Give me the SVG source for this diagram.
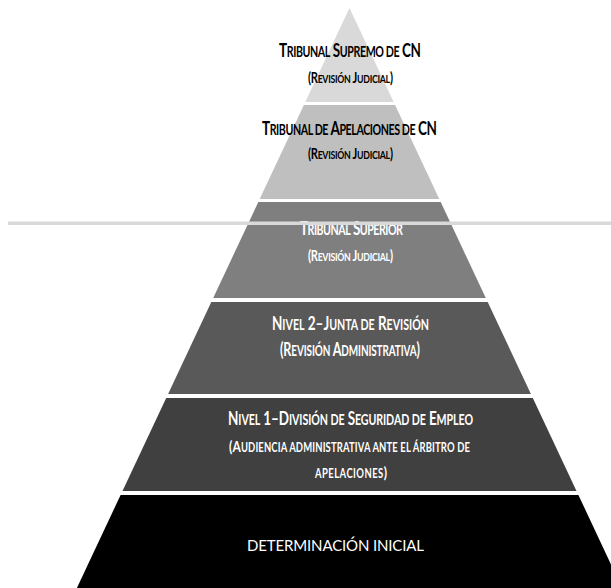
<svg xmlns="http://www.w3.org/2000/svg" width="611" height="588" viewBox="0 0 611 588">
<style>
.t{font-family:Lato,"Open Sans","Liberation Sans",sans-serif;font-weight:700;font-size:18px}
.s{font-size:14.2px}
.u{font-family:Lato,"Open Sans","Liberation Sans",sans-serif;font-weight:700;font-size:16px}
.v{font-size:12.6px}
.j{font-family:Lato,"Open Sans","Liberation Sans",sans-serif;font-weight:700;font-size:15.5px}
.i{font-size:12.2px}
.k{fill:#000}
.w{fill:#fff}
.r{font-family:Lato,"Open Sans","Liberation Sans",sans-serif;font-weight:400;font-size:15px;fill:#fff}
</style>
<rect x="0" y="0" width="611" height="588" fill="#fff"/>
<g id="tier1">
<polygon points="349.5,8 393.7,102 305.3,102" fill="#d9d9d9"/>
<text class="t k" transform="translate(279 57) scale(.75 1)" textLength="189.3" lengthAdjust="spacing">T<tspan class="s">RIBUNAL</tspan> S<tspan class="s">UPREMO DE</tspan> CN</text>
<text class="j k" transform="translate(308 83) scale(.72 1)" textLength="118" lengthAdjust="spacing">(R<tspan class="i">EVISIÓN</tspan> J<tspan class="i">UDICIAL</tspan>)</text>
</g>
<g id="tier2">
<polygon points="303.9,105 395.1,105 439.3,199 259.7,199" fill="#bfbfbf"/>
<text class="t k" transform="translate(262 135) scale(.75 1)" textLength="233.3" lengthAdjust="spacing">T<tspan class="s">RIBUNAL DE</tspan> A<tspan class="s">PELACIONES DE</tspan> CN</text>
<text class="j k" transform="translate(308 159) scale(.72 1)" textLength="118" lengthAdjust="spacing">(R<tspan class="i">EVISIÓN</tspan> J<tspan class="i">UDICIAL</tspan>)</text>
</g>
<g id="tier3">
<polygon points="258.3,202 440.7,202 485.8,298 213.2,298" fill="#7f7f7f"/>
<text class="t w" transform="translate(300 235) scale(.75 1)" textLength="137.3" lengthAdjust="spacing">T<tspan class="s">RIBUNAL</tspan> S<tspan class="s">UPERIOR</tspan></text>
<text class="j w" transform="translate(308 261) scale(.72 1)" textLength="118" lengthAdjust="spacing">(R<tspan class="i">EVISIÓN</tspan> J<tspan class="i">UDICIAL</tspan>)</text>
</g>
<g id="tier4">
<polygon points="211.3,302 487.7,302 530.9,394 168.1,394" fill="#595959"/>
<text class="t w" transform="translate(272 330) scale(.75 1)" textLength="209.3" lengthAdjust="spacing">N<tspan class="s">IVEL</tspan> 2–J<tspan class="s">UNTA DE</tspan> R<tspan class="s">EVISIÓN</tspan></text>
<text class="t w" transform="translate(280 356) scale(.7 1)" textLength="200" lengthAdjust="spacing">(R<tspan class="s">EVISIÓN</tspan> A<tspan class="s">DMINISTRATIVA</tspan>)</text>
</g>
<g id="tier5">
<polygon points="166.2,398 532.8,398 576.5,491 122.5,491" fill="#404040"/>
<text class="t w" transform="translate(228 425) scale(.75 1)" textLength="326.7" lengthAdjust="spacing">N<tspan class="s">IVEL</tspan> 1–D<tspan class="s">IVISIÓN DE</tspan> S<tspan class="s">EGURIDAD DE</tspan> E<tspan class="s">MPLEO</tspan></text>
<text class="u w" transform="translate(229 452) scale(.75 1)" textLength="321.3" lengthAdjust="spacing">(A<tspan class="v">UDIENCIA ADMINISTRATIVA ANTE EL ÁRBITRO DE</tspan></text>
<text class="u w" transform="translate(315 478) scale(.75 1)" textLength="96" lengthAdjust="spacing"><tspan class="v">APELACIONES</tspan>)</text>
</g>
<g id="tier6">
<polygon points="120.6,495 578.4,495 622.1,588 76.9,588" fill="#000"/>
<text class="r" x="247" y="551" textLength="177" lengthAdjust="spacing">DETERMINACIÓN INICIAL</text>
</g>
<g id="connectors">
<rect x="8" y="221.5" width="603" height="3.5" fill="#d9d9d9"/>
</g>
</svg>
